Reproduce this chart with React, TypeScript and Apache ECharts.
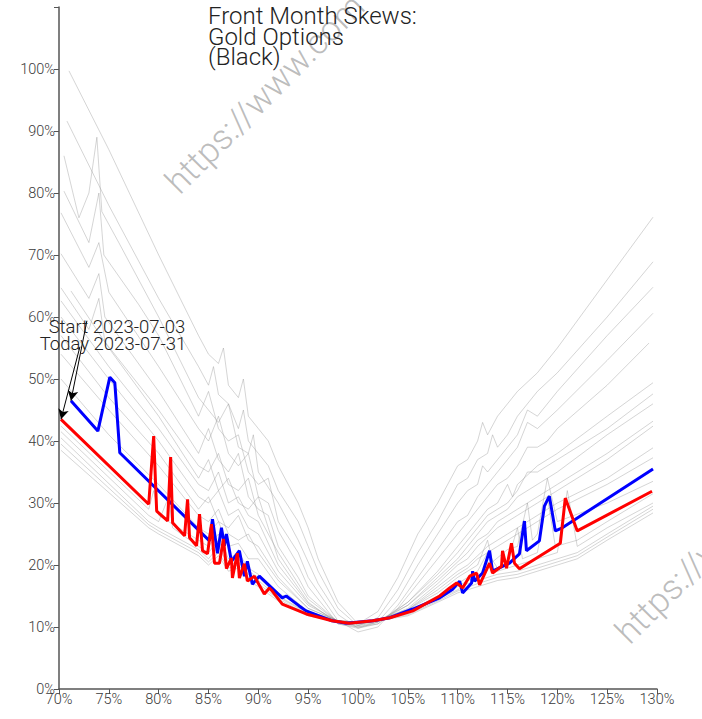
import React, { useEffect, useRef } from "react";
import * as echarts from "echarts";

// Moneyness (%) vs implied vol (%)
const startSkew: [number, number][] = [
  [71.2, 46.5], [73.9, 41.6], [75.1, 50.3], [75.6, 49.4], [76.1, 38.1], [85.1, 23.9],
  [85.4, 27.4], [85.9, 21.9], [86.3, 26.0], [86.6, 23.1], [86.8, 25.0], [87.3, 20.6],
  [88.1, 22.3], [88.6, 18.2], [88.9, 20.6], [89.4, 16.9], [90.1, 18.2], [92.4, 14.7],
  [92.8, 15.0], [94.1, 13.4], [94.8, 12.6], [97.4, 11.0], [98.8, 10.6], [101.5, 11.0],
  [103.2, 11.5], [105.5, 12.9], [108.2, 14.7], [109.5, 16.1], [110.2, 17.4], [110.5, 15.5],
  [111.4, 17.1], [111.5, 19.0], [111.7, 17.4], [112.5, 18.7], [113.2, 22.3], [113.5, 19.0],
  [115.2, 20.3], [116.2, 21.8], [116.7, 27.1], [116.9, 22.3], [118.2, 23.9], [118.7, 29.5],
  [119.2, 31.1], [119.8, 25.5], [120.5, 26.0], [129.6, 35.5],
];

const todaySkew: [number, number][] = [
  [70.2, 43.5], [79.0, 29.8], [79.5, 40.8], [79.8, 28.7], [80.9, 27.1], [81.2, 37.4],
  [81.4, 26.8], [82.6, 24.7], [82.9, 30.6], [83.1, 24.4], [83.8, 23.1], [84.1, 28.2],
  [84.4, 22.3], [84.9, 21.8], [85.3, 26.6], [85.6, 20.3], [86.1, 20.3], [86.5, 24.2],
  [86.8, 19.4], [87.3, 21.1], [87.4, 17.9], [87.9, 21.9], [88.1, 17.9], [88.6, 20.2],
  [88.9, 17.4], [89.6, 18.2], [90.6, 15.3], [91.1, 16.3], [91.4, 15.8], [92.4, 13.7],
  [94.8, 12.1], [97.4, 11.0], [99.1, 10.6], [101.5, 11.0], [103.2, 11.5], [105.5, 12.6],
  [108.2, 15.0], [109.2, 16.3], [109.9, 17.1], [110.5, 16.3], [111.2, 18.2], [111.9, 18.7],
  [112.2, 16.8], [113.2, 20.3], [113.5, 18.7], [114.4, 19.8], [114.5, 22.3], [114.9, 19.5],
  [115.4, 23.5], [115.7, 20.3], [116.2, 19.4], [120.3, 23.5], [120.8, 30.8], [122.0, 25.5],
  [129.5, 31.9],
];

const day01: [number, number][] = [[71.0, 99.7], [75, 87], [80, 70], [84, 57], [85, 54], [86, 52.5], [86.5, 55], [87, 49], [88, 47], [88.5, 50], [89, 44], [90, 42], [91, 40], [92, 36], [94, 30], [95, 26], [96, 21], [98, 14], [100, 10.5], [102, 12.5], [104, 18], [106, 25], [108, 30], [110, 36], [111, 37], [112, 40], [112.5, 43], [113, 41], [114, 44], [115, 46], [116, 48], [118, 51], [120, 55], [125, 66], [129.6, 76.1]];
const day02: [number, number][] = [[70.8, 91.6], [75, 78], [80, 63], [84, 52], [85, 49], [85.5, 52], [86, 47.5], [87, 46], [88, 42], [88.5, 45], [89, 40], [90, 38], [91, 36], [92, 32], [94, 27], [95, 23], [96, 19], [98, 13], [100, 10.2], [102, 11.5], [104, 16], [106, 22], [108, 27], [110, 33], [111, 34], [112, 37], [113, 38], [113.5, 41], [114, 39], [115, 41], [116, 44], [118, 48], [120, 51], [125, 60], [129.6, 68.9]];
const day03: [number, number][] = [[70.5, 86], [72, 76], [73, 80], [73.8, 89], [74.3, 77], [76, 72], [80, 60], [84, 47], [85, 45], [86, 43], [87, 46], [88, 39], [89, 38], [89.5, 41], [90, 35], [92, 30], [94, 24], [95, 20.5], [96, 17], [98, 12], [100, 9.8], [102, 10.8], [104, 14.5], [106, 20], [108, 25], [110, 30], [111, 32], [112, 33], [112.5, 36], [113, 35], [114, 37], [115, 39], [116, 41], [117, 45], [118, 44], [120, 48], [125, 57], [129.6, 64.8]];
const day04: [number, number][] = [[70.5, 80.3], [73, 72], [74, 80], [74.5, 70], [78, 62], [80, 57], [84, 44], [85, 48], [86, 42], [87, 40], [88, 41], [89, 35], [90, 33], [91, 34], [92, 27], [94, 22], [95, 18], [98, 11], [100, 9.2], [102, 10], [104, 13.5], [106, 18], [108, 22.5], [110, 27], [111, 28], [112, 31], [113, 33], [114, 35], [115, 37], [116, 39], [117, 43], [118, 42], [120, 45], [125, 53], [129.6, 60.6]];
const day05: [number, number][] = [[70.2, 76.8], [73, 68], [74, 72], [75, 64], [80, 52], [84, 42], [85, 40], [86, 44], [87, 38], [88, 36], [89, 38], [90, 31], [91, 30], [92, 25.5], [94, 20], [95, 16.5], [98, 10.5], [100, 9.8], [102, 10.5], [104, 13], [106, 17], [108, 21], [110, 25], [111, 27], [112, 29], [113, 31], [114, 33], [115, 34], [116, 36], [117, 39], [118, 39], [119, 40], [120, 42], [125, 49], [129.2, 55.8]];
const day06: [number, number][] = [[70.2, 70.2], [73, 63], [74, 67], [74.6, 60], [80, 48], [84, 38], [85, 42], [86, 37], [87, 35], [88, 38], [89, 31], [90, 29], [91, 28], [92, 23], [94, 18], [95, 15], [98, 10.8], [100, 10], [102, 10.5], [105, 14], [108, 19], [110, 23], [111, 25], [112, 27], [113, 29], [114, 30], [115, 33], [115.5, 31], [116, 33], [118, 36], [120, 38], [125, 44], [129.6, 49.4]];
const day07: [number, number][] = [[70.2, 64.7], [73, 58], [74, 63], [74.6, 56], [80, 45], [84, 36], [85, 35], [86, 38], [87, 33], [88, 32], [89, 34], [90, 28], [92, 22], [95, 14.5], [98, 10.8], [100, 10.2], [102, 10.8], [105, 14], [108, 18.5], [110, 22], [111, 24], [112, 26], [113, 28], [114, 29], [115, 30], [116, 32], [117, 35], [118, 35], [120, 37], [125, 42], [129.6, 47.6]];
const day08: [number, number][] = [[71.2, 64.2], [75, 55], [80, 44], [84, 34], [85, 37], [86, 32], [87, 34], [88, 30], [89, 29], [90, 31], [92, 21], [95, 14], [98, 10.5], [100, 10], [102, 10.8], [105, 13.5], [108, 18], [110, 21], [111, 23], [112, 25], [113, 27], [114, 28], [115, 29], [116, 31], [118, 33], [120, 35], [125, 41], [129.6, 46]];
const day09: [number, number][] = [[70.2, 62.6], [75, 52], [80, 42], [84, 33], [85, 32], [86, 35], [87, 30], [88, 31], [89, 28], [90, 27], [92, 20], [95, 13.8], [98, 10.8], [100, 10.3], [102, 11], [105, 13.5], [108, 17.5], [110, 20.5], [111, 22], [112, 24], [113, 25], [114, 27], [115, 28], [116, 29], [118, 31], [120, 33], [125, 38], [129.6, 43.2]];
const day10: [number, number][] = [[70.2, 60], [75, 50], [80, 40], [84, 31], [85, 30], [86, 32], [87, 28], [88, 29], [89, 26], [90, 25], [92, 19], [95, 13.5], [98, 11], [100, 10.5], [102, 11], [105, 13], [108, 17], [110, 20], [111, 21], [112, 23], [113, 24.5], [114, 26], [115, 27], [116, 28], [118, 30], [120, 32], [125, 37], [129.6, 42.4]];
const day11: [number, number][] = [[70.2, 57], [75, 47], [80, 38], [84, 29], [85, 31], [86, 27], [87, 26], [88, 28], [89, 24], [90, 23], [92, 18], [95, 13], [98, 11], [100, 10.5], [102, 11], [105, 12.8], [108, 16.5], [110, 19], [111, 20], [112, 21.5], [113, 23], [114, 24], [115, 25], [116, 26], [118, 28], [120, 30], [125, 34], [129.6, 38.9]];
const day12: [number, number][] = [[70.2, 54], [75, 45], [80, 36], [84, 28], [85, 27], [86, 29], [87, 25], [88, 24], [89, 25], [90, 22], [92, 17.5], [95, 13], [98, 11], [100, 10.6], [102, 11], [105, 12.8], [108, 16], [110, 18.5], [111, 19.5], [112, 21], [113, 22], [114, 23], [115, 24], [116, 25], [118, 27], [120, 29], [125, 33], [129.6, 37.3]];
const day13: [number, number][] = [[70.2, 50], [75, 41], [80, 33], [84, 26], [85, 25], [86, 27], [87, 23], [88, 23.5], [89, 21], [90, 21], [92, 16.5], [95, 12.5], [98, 11], [100, 10.7], [102, 11.2], [105, 12.8], [108, 15.5], [110, 18], [111, 19], [112, 20], [113, 24], [113.5, 20.5], [115, 22.5], [116, 23], [117, 30], [117.5, 24], [118, 25], [119, 34], [120, 27], [125, 30], [129.6, 33.5]];
const day14: [number, number][] = [[70.2, 42.4], [79, 29], [79.5, 32], [80, 28], [84, 24], [85, 23], [86, 25], [87, 21], [88, 22], [89, 19.5], [90, 18.5], [92, 15.5], [95, 12.5], [98, 11], [100, 10.8], [102, 11.2], [105, 12.5], [108, 15], [110, 17], [111, 18], [112, 19], [113, 22], [114, 19.5], [115, 20.5], [116, 26], [116.5, 21], [118, 22], [119, 31], [119.8, 23], [122, 24], [125, 27], [129.6, 31.5]];
const day15: [number, number][] = [[70.2, 41.5], [79, 28], [80, 27], [81, 31], [81.4, 26], [84, 23], [85, 22], [86, 24], [87, 20.5], [88, 21], [89, 19], [90, 18], [92, 15], [95, 12.3], [98, 11], [100, 10.8], [102, 11.2], [105, 12.3], [108, 14.7], [110, 16.5], [111, 17.5], [112, 18], [113, 20], [114, 19], [115, 19.5], [116, 20], [118, 21], [120, 22], [121, 32], [122, 23], [125, 26], [129.6, 30]];
const day16: [number, number][] = [[70.2, 40.5], [79, 27], [80, 26], [84, 22.5], [85, 21], [86, 23], [87, 20], [88, 20.5], [89, 18.5], [90, 17.5], [92, 14.8], [95, 12.2], [98, 11], [100, 10.8], [102, 11.2], [105, 12.2], [108, 14.5], [110, 16], [111, 17], [112, 17.5], [114, 18.5], [116, 19], [118, 20], [120, 21], [122, 22], [125, 25], [129.6, 29.5]];
const day17: [number, number][] = [[70.2, 39.5], [79, 26.5], [80, 25.5], [84, 22], [85, 20.5], [86, 22], [87, 19.5], [88, 20], [89, 18], [90, 17], [92, 14.5], [95, 12], [98, 11], [100, 10.8], [102, 11.1], [105, 12], [108, 14.2], [110, 15.8], [112, 17], [114, 18], [116, 18.5], [118, 19.5], [120, 20.5], [122, 21.5], [125, 24.5], [129.6, 29]];
const day18: [number, number][] = [[70.2, 38.5], [79, 26], [80, 25], [84, 21.5], [85, 20], [86, 21.5], [87, 19], [88, 19.5], [89, 17.5], [90, 16.5], [92, 14.2], [95, 11.8], [98, 10.9], [100, 10.7], [102, 11], [105, 11.8], [108, 14], [110, 15.5], [112, 16.5], [114, 17.5], [116, 18], [118, 19], [120, 20], [122, 21], [125, 24], [129.6, 28.4]];

const historySkews = [day01, day02, day03, day04, day05, day06, day07, day08, day09, day10, day11, day12, day13, day14, day15, day16, day17, day18];

const xTicks = { min: 70, max: 130, step: 5 };
const yTicks = { min: 0, max: 110, step: 10 };
const titleLines = ["Front Month Skews:", "Gold Options", "(Black)"];
const startLabel = "Start 2023-07-03";
const todayLabel = "Today 2023-07-31";
const watermark1 = "https://www.com";
const watermark2 = "https://www";
const startArrowFrom: [number, number] = [72.8, 59.4];
const todayArrowFrom: [number, number] = [72.1, 55.2];

const FONT = "Roboto, 'Noto Sans', sans-serif";

export default function App() {
  const ref = useRef<HTMLDivElement>(null);
  useEffect(() => {
    if (!ref.current) return;
    const chart = echarts.init(ref.current, undefined, { renderer: "svg" });
    const gray = historySkews.map((d, i) => ({
      type: "line",
      name: "hist" + i,
      data: d,
      showSymbol: false,
      silent: true,
      lineStyle: { color: "rgba(150,150,150,0.4)", width: 1 },
      z: 1,
    }));
    const arrowLine = {
      symbol: ["none", "arrow"],
      symbolSize: [8, 10],
      silent: true,
      label: { show: false },
      lineStyle: { color: "#000", width: 1, type: "solid" },
      emphasis: { disabled: true },
    };
    const axisLabelBase = { color: "#3a3a3a", fontSize: 14.5, fontFamily: FONT, fontWeight: 300 };
    chart.setOption({
      animation: false,
      backgroundColor: "#fff",
      grid: { left: 59, right: 45, top: 7, bottom: 30, containLabel: false },
      xAxis: {
        type: "value",
        min: xTicks.min,
        max: xTicks.max,
        interval: xTicks.step,
        axisLine: { show: true, lineStyle: { color: "#555", width: 1.5 } },
        axisTick: { show: true, length: 5, lineStyle: { color: "#555" } },
        axisLabel: { ...axisLabelBase, formatter: "{value}%", margin: 3 },
        splitLine: { show: false },
      },
      yAxis: {
        type: "value",
        min: yTicks.min,
        max: yTicks.max,
        interval: yTicks.step,
        axisLine: { show: true, lineStyle: { color: "#555", width: 1.5 } },
        axisTick: { show: true, length: 5, lineStyle: { color: "#555" } },
        axisLabel: {
          ...axisLabelBase,
          formatter: (v: number) => (v >= yTicks.max ? "" : v + "%"),
          margin: 4,
        },
        splitLine: { show: false },
      },
      series: [
        ...gray,
        {
          type: "line",
          name: "start",
          data: startSkew,
          showSymbol: false,
          lineStyle: { color: "#0000ff", width: 3 },
          z: 3,
          markLine: { ...arrowLine, data: [[{ coord: startArrowFrom }, { coord: startSkew[0] }]] },
        },
        {
          type: "line",
          name: "today",
          data: todaySkew,
          showSymbol: false,
          lineStyle: { color: "#ff0000", width: 3 },
          z: 4,
          markLine: { ...arrowLine, data: [[{ coord: todayArrowFrom }, { coord: todaySkew[0] }]] },
        },
      ],
      graphic: [
        {
          type: "text",
          x: 184,
          y: 200,
          rotation: Math.PI / 4,
          style: { text: watermark1, font: `300 35px ${FONT}`, fill: "rgba(160,160,160,0.7)", textVerticalAlign: "bottom" },
          z: 0,
        },
        {
          type: "text",
          x: 634,
          y: 650,
          rotation: Math.PI / 4,
          style: { text: watermark2, font: `300 35px ${FONT}`, fill: "rgba(160,160,160,0.7)", textVerticalAlign: "bottom" },
          z: 0,
        },
        ...titleLines.map((t, i) => ({
          type: "text",
          x: 208,
          y: 4 + i * 20.7,
          style: { text: t, font: `300 24px ${FONT}`, fill: "#222", textVerticalAlign: "top" },
          z: 10,
        })),
        {
          type: "text",
          x: 117,
          y: 327,
          style: { text: startLabel, font: `300 18.5px ${FONT}`, fill: "#222", textAlign: "center", textVerticalAlign: "middle" },
          z: 10,
        },
        {
          type: "text",
          x: 113,
          y: 344,
          style: { text: todayLabel, font: `300 18.5px ${FONT}`, fill: "#222", textAlign: "center", textVerticalAlign: "middle" },
          z: 10,
        },
      ],
    });
    return () => chart.dispose();
  }, []);
  return <div ref={ref} style={{ width: 702, height: 719, position: "absolute", left: 0, top: 0 }} />;
}
